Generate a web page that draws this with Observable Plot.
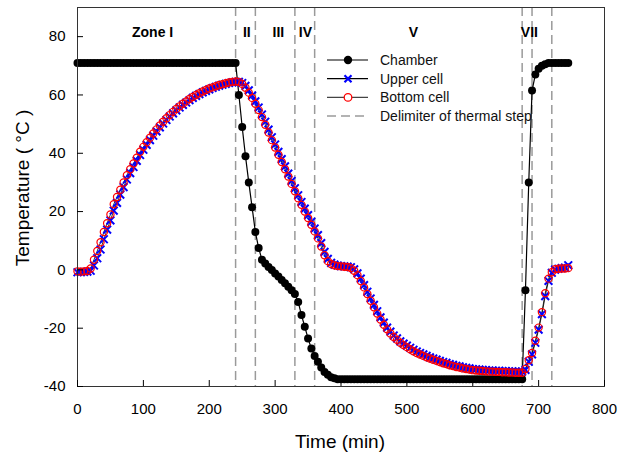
<!DOCTYPE html>
<html>
<head>
<meta charset="utf-8">
<script src="https://cdn.jsdelivr.net/npm/d3@7"></script>
<script src="https://cdn.jsdelivr.net/npm/@observablehq/plot@0.6"></script>
<style>
  html, body { margin: 0; padding: 0; background: #fff; }
  svg { display: block; }
</style>
</head>
<body>
<div id="chart"></div>
<script>
// ---- data ----
const time = [0,5,10,15,20,25,30,35,40,45,50,55,60,65,70,75,80,85,90,95,
  100,105,110,115,120,125,130,135,140,145,150,155,160,165,170,175,180,185,190,195,
  200,205,210,215,220,225,230,235,240,245,250,255,260,265,270,275,280,285,290,295,
  300,305,310,315,320,325,330,335,340,345,350,355,360,365,370,375,380,385,390,395,
  400,405,410,415,420,425,430,435,440,445,450,455,460,465,470,475,480,485,490,495,
  500,505,510,515,520,525,530,535,540,545,550,555,560,565,570,575,580,585,590,595,
  600,605,610,615,620,625,630,635,640,645,650,655,660,665,670,675,680,685,690,695,
  700,705,710,715,720,725,730,735,740,745];

const chamber = [71,71,71,71,71,71,71,71,71,71,71,71,71,71,71,71,71,71,71,71,
  71,71,71,71,71,71,71,71,71,71,71,71,71,71,71,71,71,71,71,71,
  71,71,71,71,71,71,71,71,71,60,49,39,30,21.5,13,7.5,3.5,2.2,1,0,
  -1.2,-2.3,-3.5,-4.6,-5.8,-7,-8.3,-11,-15.5,-19.5,-23.5,-27,-29.5,-31.5,-33.5,-35,-36,-36.8,-37.2,-37.5,
  -37.5,-37.5,-37.5,-37.5,-37.5,-37.5,-37.5,-37.5,-37.5,-37.5,-37.5,-37.5,-37.5,-37.5,-37.5,-37.5,-37.5,-37.5,-37.5,-37.5,
  -37.5,-37.5,-37.5,-37.5,-37.5,-37.5,-37.5,-37.5,-37.5,-37.5,-37.5,-37.5,-37.5,-37.5,-37.5,-37.5,-37.5,-37.5,-37.5,-37.5,
  -37.5,-37.5,-37.5,-37.5,-37.5,-37.5,-37.5,-37.5,-37.5,-37.5,-37.5,-37.5,-37.5,-37.5,-37.5,-37.5,-7,30,61.5,67,
  69,70,70.5,71,71,71,71,71,71,71];

const upperCell = [-0.8,-0.8,-0.7,-0.6,-0.3,1.5,4,7,10.5,13.8,17,20.3,23,25.8,28.4,31,33.2,35.3,37.4,39.4,
  41.2,42.9,44.5,46,47.5,48.9,50.2,51.4,52.6,53.7,54.7,55.7,56.6,57.4,58.2,59,59.7,60.3,60.9,61.4,
  61.9,62.4,62.8,63.2,63.5,63.8,64.1,64.3,64.5,64.5,64.1,63.1,61.6,59.8,57.8,55.7,53.3,50.8,48.1,45.5,
  43,40.5,38,35.5,33,30.5,28,25.6,23.3,21,18.8,16.5,14.2,11.9,9.2,6.2,3.8,2.4,1.8,1.5,
  1.3,1.2,1.1,0.9,0.2,-1.2,-3,-5.2,-7.5,-9.8,-12,-14.2,-16.3,-18.1,-19.8,-21.2,-22.5,-23.5,-24.5,-25.3,
  -26,-26.7,-27.4,-28,-28.5,-29,-29.5,-30,-30.4,-30.8,-31.2,-31.6,-31.9,-32.3,-32.6,-32.9,-33.1,-33.4,-33.6,-33.8,
  -34,-34.1,-34.2,-34.3,-34.4,-34.5,-34.5,-34.6,-34.6,-34.7,-34.7,-34.8,-34.8,-34.9,-34.9,-34.9,-34.3,-31.5,-29,-25,
  -20.5,-15.2,-9,-3.8,-1,0.1,0.4,0.6,0.8,1.6];

const bottomCell = [-0.5,-0.6,-0.5,-0.4,0.5,3.5,6.5,9.5,13,16,19,22.5,25,27.5,30,32.5,34.5,36.5,38.5,40.5,
  42.2,43.8,45.3,46.8,48.2,49.5,50.8,52,53.1,54.2,55.2,56.1,57,57.8,58.6,59.3,60,60.6,61.2,61.7,
  62.2,62.6,63,63.4,63.7,64,64.3,64.5,64.6,64.5,63.8,62.5,60.8,59,57,54.8,52.4,49.8,47.1,44.5,
  42,39.5,37,34.5,32,29.5,27,24.6,22.3,20,17.8,15.5,13.2,10.8,8,5,3,2,1.6,1.3,
  1.2,1.1,1,0.6,-0.3,-1.8,-3.8,-6,-8.3,-10.6,-12.8,-15,-17,-18.8,-20.4,-21.8,-23,-24,-25,-25.8,
  -26.5,-27.2,-27.9,-28.5,-29,-29.5,-30,-30.4,-30.8,-31.2,-31.6,-32,-32.3,-32.7,-33,-33.3,-33.5,-33.8,-34,-34.2,
  -34.4,-34.5,-34.6,-34.7,-34.8,-34.9,-34.9,-35,-35,-35.1,-35.1,-35.2,-35.2,-35.3,-35.3,-35.3,-34,-31,-28.5,-24.3,
  -19.8,-14.5,-8,-3,-0.8,0.2,0.4,0.5,0.5,0.6];

const delimiters = [240, 270, 330, 360, 675, 690, 720];
const zoneLabels = ["Zone I", "II", "III", "IV", "V", "VII"];
const zoneLabelTime = [114, 257, 305, 346, 510, 686];

const xTicks = [0, 100, 200, 300, 400, 500, 600, 700, 800];
const yTicks = [-40, -20, 0, 20, 40, 60, 80];

const legendLabels = ["Chamber", "Upper cell", "Bottom cell", "Delimiter of thermal step"];

// ---- build tables ----
const chamberData = time.map((t, i) => ({t, v: chamber[i]}));
const upperData = time.map((t, i) => ({t, v: upperCell[i]}));
const bottomData = time.map((t, i) => ({t, v: bottomCell[i]}));
const zoneData = zoneLabels.map((s, i) => ({s, t: zoneLabelTime[i]}));

const font = "Liberation Sans, Arial, Helvetica, sans-serif";

const chart = Plot.plot({
  width: 618,
  height: 461,
  marginLeft: 77,
  marginRight: 14,
  marginTop: 7,
  marginBottom: 75,
  style: {fontFamily: font, fontSize: "15px", color: "#000", background: "#fff", overflow: "visible"},
  x: {domain: [0, 800]},
  y: {domain: [-40, 90]},
  marks: [
    Plot.ruleX(delimiters, {stroke: "#9a9a9a", strokeWidth: 1.5, strokeDasharray: "9,5"}),
    Plot.line(chamberData, {x: "t", y: "v", stroke: "#000", strokeWidth: 1.2}),
    Plot.dot(chamberData, {x: "t", y: "v", r: 4, fill: "#000", stroke: "none"}),
    Plot.line(upperData, {x: "t", y: "v", stroke: "#000", strokeWidth: 0.8}),
    Plot.line(bottomData, {x: "t", y: "v", stroke: "#000", strokeWidth: 0.8}),
    Plot.dot(upperData, {x: "t", y: "v", symbol: "times", r: 3.6, stroke: "#0000ff", strokeWidth: 2}),
    Plot.dot(bottomData, {x: "t", y: "v", r: 3.6, stroke: "#ff0000", fill: "none", strokeWidth: 1.2}),
    Plot.text(zoneData, {x: "t", text: "s", frameAnchor: "top", dy: 20, fontWeight: "bold", fontSize: 14, fill: "#000"}),
    Plot.frame({stroke: "#333", strokeWidth: 1}),
    Plot.axisX({ticks: xTicks, tickSize: 6, insetBottom: 6, tickPadding: 17, label: null, tickFormat: d => String(d)}),
    Plot.axisY({ticks: yTicks, tickSize: 6, insetLeft: 6, tickPadding: 12, label: null, tickFormat: d => String(d)})
  ]
});

document.getElementById("chart").appendChild(chart);

// ---- axis titles & legend ----
const svg = d3.select(chart);
svg.append("text")
  .attr("x", 340).attr("y", 441)
  .attr("text-anchor", "middle").attr("dominant-baseline", "central")
  .attr("font-family", font).attr("font-size", 19).attr("fill", "#000")
  .text("Time (min)");
svg.append("text")
  .attr("transform", "translate(22,188) rotate(-90)")
  .attr("text-anchor", "middle").attr("dominant-baseline", "central")
  .attr("font-family", font).attr("font-size", 19).attr("fill", "#000")
  .text("Temperature ( °C )");

const lg = svg.append("g").attr("font-family", font).attr("font-size", 14);
legendLabels.forEach((label, i) => {
  const y = 60 + i * 18.7;
  const g = lg.append("g").attr("transform", `translate(0,${y})`);
  if (i < 3) {
    g.append("line").attr("x1", 327).attr("x2", 368).attr("y1", 0).attr("y2", 0)
      .attr("stroke", i === 2 ? "#444" : "#000").attr("stroke-width", 1.2);
  }
  if (i === 0) {
    g.append("circle").attr("cx", 348).attr("cy", 0).attr("r", 4.2).attr("fill", "#000");
  } else if (i === 1) {
    g.append("path").attr("d", "M344.5,-3.5L351.5,3.5M344.5,3.5L351.5,-3.5")
      .attr("stroke", "#0000ff").attr("stroke-width", 2.2).attr("fill", "none");
  } else if (i === 2) {
    g.append("circle").attr("cx", 348).attr("cy", 0).attr("r", 3.8)
      .attr("fill", "#fff").attr("stroke", "#ff0000").attr("stroke-width", 1.3);
  } else {
    g.append("line").attr("x1", 327).attr("x2", 368).attr("y1", 0).attr("y2", 0)
      .attr("stroke", "#9a9a9a").attr("stroke-width", 1.5).attr("stroke-dasharray", "9,5");
  }
  g.append("text").attr("x", 380).attr("y", 0)
    .attr("text-anchor", "start").attr("dominant-baseline", "central")
    .attr("fill", "#111").text(label);
});
</script>
</body>
</html>
